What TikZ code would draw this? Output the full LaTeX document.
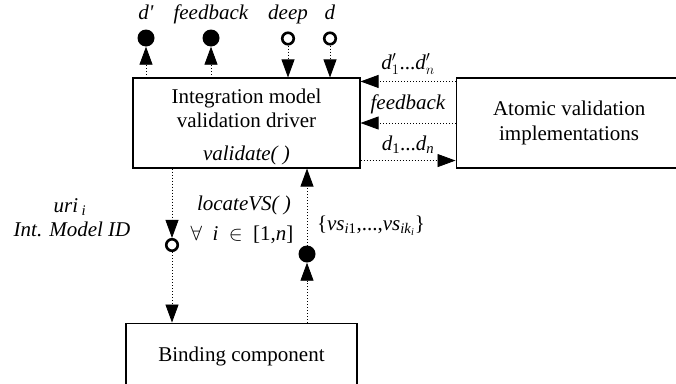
\documentclass[tikz,border=0pt]{standalone}
\usepackage{fontspec}
\setmainfont{Liberation Serif}
\usepackage{tikz}
\usetikzlibrary{arrows.meta,positioning}

\begin{document}
\begin{tikzpicture}[x=1pt,y=-1pt,>=Latex,font=\fontsize{21pt}{24.5pt}\selectfont]

\tikzset{
box/.style={
    draw,
    line width=1.1pt,
    align=center,
    inner sep=0pt
},
link/.style={-{Triangle[length=18pt,width=13pt]},line width=0.8pt,dash pattern=on 0.8pt off 2.2pt},
prov/.style={circle,fill=black,minimum size=17pt,inner sep=0pt},
req/.style={circle,draw,line width=2.6pt,minimum size=11.5pt,inner sep=0pt},
lbl/.style={inner sep=0pt,anchor=base}
}

\useasboundingbox (0,0) rectangle (676,383);
\clip (0,0) rectangle (676,383);

\node[box,minimum width=227pt,minimum height=90pt] (driver) at (246.5,123)
  {\rule{0pt}{22pt}Integration model\\validation driver\\[8pt]\textit{validate( )}};
\node[box,minimum width=226pt,minimum height=90pt,right=95pt of driver] (atomic)
  {Atomic validation\\implementations};
\node[box,minimum width=231pt,minimum height=66pt,below=154pt of driver,xshift=-5pt] (binding)
  {Binding component};

\node[prov] (dpout) at (146,38) {};
\node[prov] (fbout) at (211,38) {};
\node[req] (deepin) at (288,38.5) {};
\node[req] (din) at (330,38.5) {};

\foreach \p/\t in {dpout/{\textit{d\textquotesingle}},fbout/\textit{feedback},deepin/\textit{deep},din/\textit{d}}
  \node[lbl] (\p-lbl) at ([yshift=19pt]\p.center) {\t};

\foreach \p in {dpout,fbout}
  \draw[link] (\p |- driver.north) -- (\p);
\foreach \p in {deepin,din}
  \draw[link] (\p) -- (\p |- driver.north);

\draw[link] ([yshift=-4pt]atomic.north west) -- node[midway,lbl,yshift=12pt] (dprimes)
  {\textit{d}$'_1$...\textit{d}$'_n$}
  ([yshift=-4pt]driver.north east);
\draw[link] (atomic.west) -- node[midway,lbl,yshift=14pt] (fbback) {\textit{feedback}} (driver.east);
\draw[link] ([yshift=8pt]driver.south east) -- node[midway,lbl,yshift=10pt] (dplain)
  {\textit{d}\textsubscript{1}...\textit{d}\textsubscript{\textit{n}}}
  ([yshift=8pt]atomic.south west);

\node[req] (uriin) at (172,245) {};
\node[prov] (vsout) at (307,254) {};
\draw[link] (uriin |- driver.south) -- (uriin);
\draw[link] (uriin) -- (uriin |- binding.north);
\draw[link] (vsout |- binding.north) -- (vsout);
\draw[link] (vsout) -- (vsout |- driver.south);

\node[lbl] (urilbl) at (70,212) {\textit{uri}\,\textsubscript{\textit{i}}};
\node[lbl] (idlbl) at (72,236) {\textit{Int. Model ID}};
\node[lbl] (locate) at (244,210) {\textit{locateVS( )}};
\node[lbl] (forall) at (242,240) {$\forall$\enspace\textit{i}\enspace$\in$\enspace[1,\textit{n}]};
\node[lbl] (vsset) at (371,230)
  {\{\textit{vs}\textsubscript{\textit{i}1},...,\textit{vs}\textsubscript{\textit{ik}\textsubscript{\textit{i}}}\}};

\end{tikzpicture}
\end{document}
